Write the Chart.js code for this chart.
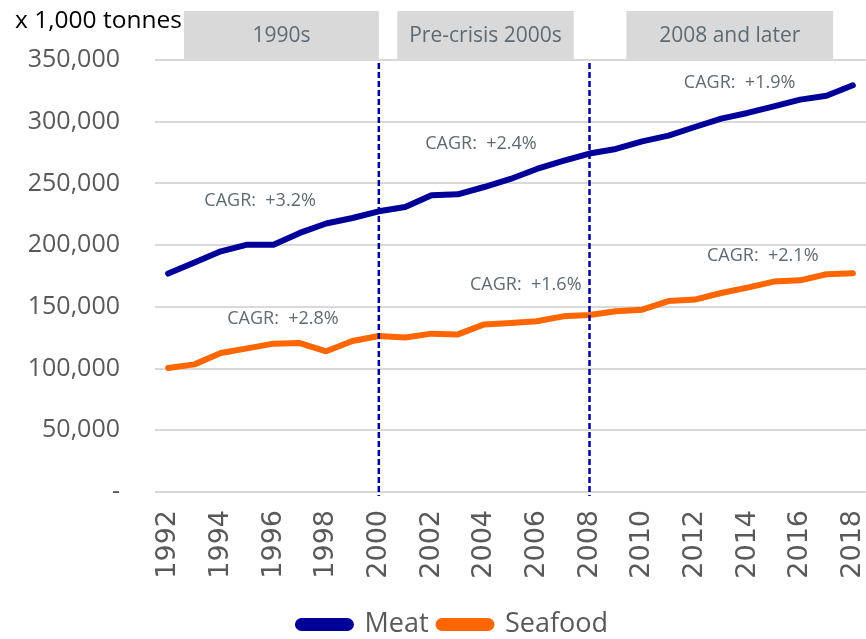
<!DOCTYPE html>
<html>
<head>
<meta charset="utf-8">
<script src="https://cdn.jsdelivr.net/npm/chart.js@4.4.1/dist/chart.umd.min.js"></script>
<style>
  html, body { margin: 0; padding: 0; background: #ffffff; }
  #wrap { width: 866px; height: 639px; position: relative; }
</style>
</head>
<body>
<div id="wrap"><canvas id="c" width="866" height="639"></canvas></div>
<script>
// ---- data ----
const years = ['1992','1993','1994','1995','1996','1997','1998','1999','2000','2001','2002','2003','2004','2005','2006','2007','2008','2009','2010','2011','2012','2013','2014','2015','2016','2017','2018'];
const meat = [177000,186000,195000,200400,200400,209900,217500,222000,227400,230900,240400,241200,247100,253600,261700,268200,274200,277900,284100,288700,295700,302500,307100,312500,317900,321100,329500];
const seafood = [100400,103400,112600,116400,120200,120700,114000,122300,126400,125100,128300,127700,135800,136900,138300,142300,143400,146400,147700,154700,155900,161200,165600,170500,171500,176400,177200];
const yTicks = [0,50000,100000,150000,200000,250000,300000,350000];
const unitLabel = 'x 1,000 tonnes';

// period header boxes (x in category-index units)
const periodLabels = ['1990s','Pre-crisis 2000s','2008 and later'];
const periodFrom = [0.6, 8.7, 17.4];
const periodTo = [8.0, 15.4, 25.25];

// dividers
const dividerYears = ['2000','2008'];

// CAGR annotations (x in category-index units, y in data units)
const cagrTexts = ['CAGR:  +3.2%','CAGR:  +2.4%','CAGR:  +1.9%','CAGR:  +2.8%','CAGR:  +1.6%','CAGR:  +2.1%'];
const cagrX = [3.49, 11.88, 21.7, 4.36, 13.58, 22.58];
const cagrY = [235600, 281800, 331200, 139950, 167500, 191000];

const MEAT_COLOR = '#000099';
const SEA_COLOR = '#ff6600';
const TEXT_GREY = '#595959';
const ANNO_GREY = '#5f6a72';
const FONT = '"Open Sans", "DejaVu Sans", sans-serif';

const overlay = {
  id: 'overlay',
  afterDatasetsDraw(chart) {
    const { ctx, chartArea, scales: { x, y } } = chart;
    ctx.save();
    // dashed dividers
    ctx.strokeStyle = MEAT_COLOR;
    ctx.lineWidth = 2.5;
    ctx.setLineDash([6, 3]);
    dividerYears.forEach(yr => {
      const px = x.getPixelForValue(years.indexOf(yr));
      ctx.beginPath();
      ctx.moveTo(px, chartArea.top + 3);
      ctx.lineTo(px, chartArea.bottom + 4);
      ctx.stroke();
    });
    ctx.setLineDash([]);
    // CAGR labels
    ctx.fillStyle = ANNO_GREY;
    ctx.font = '18px ' + FONT;
    ctx.textAlign = 'center';
    ctx.textBaseline = 'middle';
    cagrTexts.forEach((t, i) => {
      ctx.fillText(t, x.getPixelForValue(cagrX[i]), y.getPixelForValue(cagrY[i]));
    });
    ctx.restore();
  },
  afterDraw(chart) {
    const { ctx, chartArea, scales: { x } } = chart;
    ctx.save();
    const boxTop = 11;
    const boxBottom = chartArea.top - 1;
    periodLabels.forEach((lab, i) => {
      const x0 = x.getPixelForValue(periodFrom[i]);
      const x1 = x.getPixelForValue(periodTo[i]);
      ctx.fillStyle = '#d9d9d9';
      ctx.fillRect(x0, boxTop, x1 - x0, boxBottom - boxTop);
      ctx.fillStyle = ANNO_GREY;
      ctx.font = '21px ' + FONT;
      ctx.textAlign = 'center';
      ctx.textBaseline = 'middle';
      ctx.fillText(lab, (x0 + x1) / 2, 36);
    });
    ctx.fillStyle = '#000000';
    ctx.font = '24.5px ' + FONT;
    ctx.textAlign = 'left';
    ctx.textBaseline = 'middle';
    ctx.fillText(unitLabel, 15, 21);
    ctx.restore();
  }
};

new Chart(document.getElementById('c'), {
  type: 'line',
  data: {
    labels: years,
    datasets: [
      { label: 'Meat', data: meat, borderColor: MEAT_COLOR, backgroundColor: MEAT_COLOR, borderWidth: 6, pointRadius: 0, tension: 0, borderCapStyle: 'round', borderJoinStyle: 'round' },
      { label: 'Seafood', data: seafood, borderColor: SEA_COLOR, backgroundColor: SEA_COLOR, borderWidth: 6, pointRadius: 0, tension: 0, borderCapStyle: 'round', borderJoinStyle: 'round' }
    ]
  },
  options: {
    responsive: false,
    animation: false,
    layout: { padding: { top: 60, left: 40, right: 0, bottom: -9 } },
    plugins: {
      tooltip: { enabled: false },
      legend: {
        position: 'bottom',
        labels: {
          color: TEXT_GREY,
          font: { family: FONT, size: 27 },
          boxWidth: 53,
          boxHeight: 7,
          useBorderRadius: true,
          borderRadius: 3.5,
          padding: 10
        }
      }
    },
    scales: {
      x: {
        type: 'category',
        offset: true,
        grid: { display: false, drawTicks: false },
        border: { display: false },
        ticks: {
          autoSkip: false,
          minRotation: 90,
          maxRotation: 90,
          padding: 18,
          color: TEXT_GREY,
          font: { family: '"DejaVu Sans", sans-serif', size: 27 },
          callback: function(val, idx) { return idx % 2 === 0 ? years[idx] : ''; }
        },
        afterFit(scale) { scale.height = 109; scale.paddingLeft = 0; scale.paddingRight = 0; }
      },
      y: {
        min: 0,
        max: 350000,
        grid: { color: '#d9d9d9', lineWidth: 2, drawTicks: false },
        border: { display: false },
        afterBuildTicks(scale) { scale.ticks = yTicks.map(v => ({ value: v })); },
        ticks: {
          padding: 35,
          color: TEXT_GREY,
          font: { family: FONT, size: 25 },
          callback: v => v === 0 ? '-' : v.toLocaleString('en-US')
        },
        afterFit(scale) {
          scale.width = 115;
          // allow tick labels to extend left of the axis box
          scale._computeLabelArea = function() { return undefined; };
        }
      }
    }
  },
  plugins: [overlay]
});
</script>
</body>
</html>
